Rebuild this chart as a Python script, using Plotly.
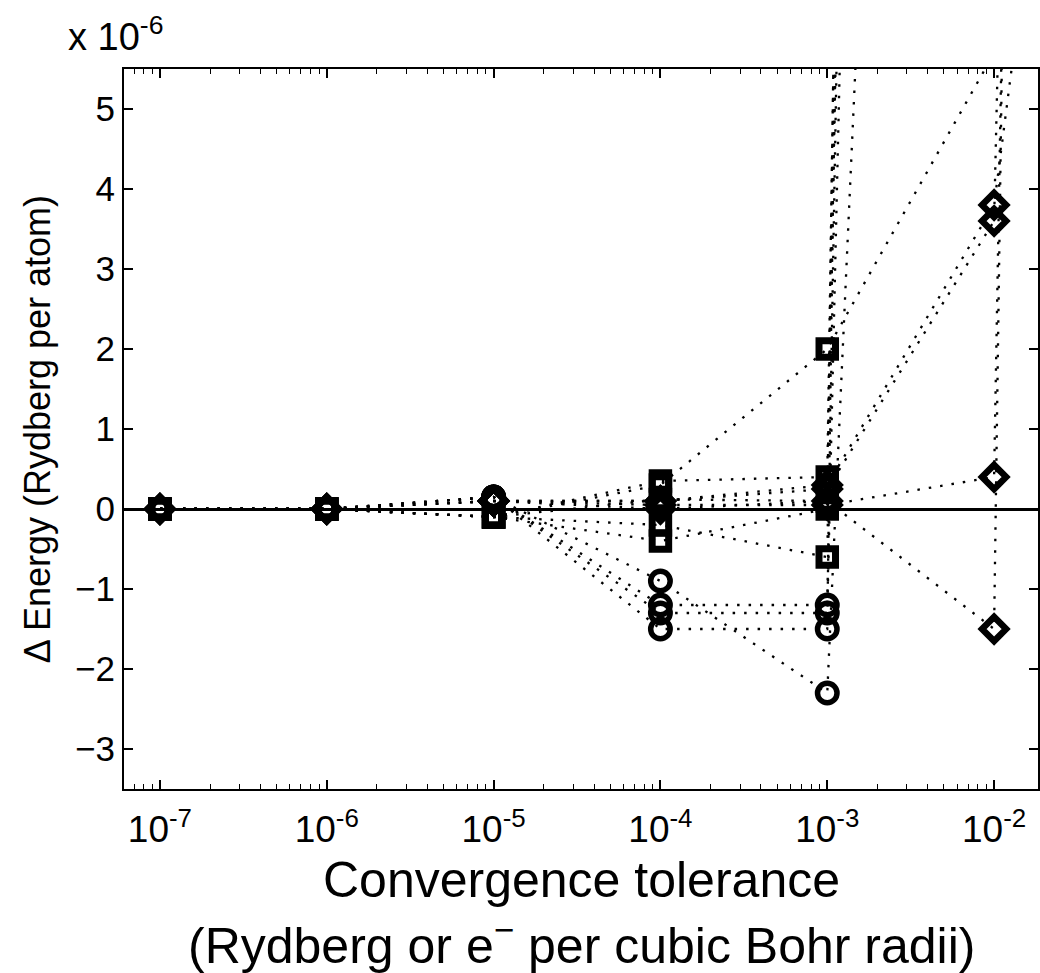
import plotly.graph_objects as go

# Convergence tolerances (the last one lies beyond the visible x-range)
tolerance = [1e-7, 1e-6, 1e-5, 1e-4, 1e-3, 1e-2, 1e-1]

# Energy change per run, in units of 1e-6 Rydberg per atom
circle_runs = [
    [0, 0, 0.15, -1.2, -1.2, 120, None],
    [0, 0, 0.15, -1.3, -1.3, 90, None],
    [0, 0, 0.15, -1.5, -1.5, 160, None],
    [0, 0, 0.15, -0.9, -2.3, 44, None],
]
square_runs = [
    [0, 0, -0.1, 0.3, 2.0, 5.7, None],
    [0, 0, -0.1, 0.35, 0.4, 140, None],
    [0, 0, -0.1, 0.12, 0.1, 110, None],
    [0, 0, -0.1, -0.2, -0.6, 130, None],
    [0, 0, -0.1, -0.4, 0.0, 150, None],
]
diamond_runs = [
    [0, 0, 0.1, 0.1, 0.3, 3.8, 20],
    [0, 0, 0.1, 0.1, 0.25, 3.6, 95],
    [0, 0, 0.1, 0.05, 0.05, 0.4, 120],
    [0, 0, 0.1, 0.0, 0.1, -1.5, 150],
]

major_ticks = [1e-7, 1e-6, 1e-5, 1e-4, 1e-3, 1e-2]
major_labels = ["10<sup>-7</sup>", "10<sup>-6</sup>", "10<sup>-5</sup>",
                "10<sup>-4</sup>", "10<sup>-3</sup>", "10<sup>-2</sup>"]
y_ticks = [-3, -2, -1, 0, 1, 2, 3, 4, 5]

FONT = "Liberation Sans, Arial, Helvetica, sans-serif"

fig = go.Figure()

marker_styles = [
    (circle_runs, "circle-open", 19.5, 5.5),
    (square_runs, "square-open", 16.5, 7),
    (diamond_runs, "diamond-open", 18.5, 6.5),
]
for runs, symbol, size, lw in marker_styles:
    for run in runs:
        fig.add_trace(go.Scatter(
            x=tolerance, y=run, mode="lines+markers",
            line=dict(color="black", width=2.3, dash="2.5px,9px"),
            marker=dict(symbol=symbol, size=size, color="black",
                        line=dict(color="black", width=lw)),
            connectgaps=False, showlegend=False, hoverinfo="skip",
        ))

minor_ticks = [k * 10.0 ** e for e in range(-8, -1) for k in range(2, 10)]

fig.update_xaxes(
    type="log", range=[-7.2153, -1.7368],
    tickvals=major_ticks, ticktext=major_labels,
    ticks="inside", ticklen=9, tickwidth=1.8, tickcolor="black",
    showline=True, linecolor="black", linewidth=2, mirror="ticks",
    showgrid=False, zeroline=False, ticklabelstandoff=7,
    tickfont=dict(family=FONT, size=37, color="black"),
    minor=dict(tickvals=minor_ticks, ticks="inside", ticklen=5,
               tickwidth=1.4, tickcolor="black", showgrid=False),
)
fig.update_yaxes(
    range=[-3.5, 5.5], tickvals=y_ticks,
    ticks="inside", ticklen=9, tickwidth=1.8, tickcolor="black",
    showline=True, linecolor="black", linewidth=2, mirror="ticks",
    showgrid=False, zeroline=True, zerolinecolor="black", zerolinewidth=2.8,
    tickfont=dict(family=FONT, size=35, color="black"),
)

fig.update_layout(
    width=1040, height=973,
    margin=dict(l=124, r=0, t=69, b=184),
    paper_bgcolor="white", plot_bgcolor="white",
    font=dict(family=FONT, color="black"),
    annotations=[
        dict(text="x 10<sup>-6</sup>", xref="paper", yref="paper",
             x=-0.064, y=1.0, xanchor="left", yanchor="bottom", yshift=9,
             showarrow=False, font=dict(size=38)),
        dict(text="\u0394 Energy (Rydberg per atom)", xref="paper", yref="paper",
             x=-0.095, y=0.5, xanchor="center", yanchor="middle",
             textangle=-90, showarrow=False, font=dict(size=36)),
        dict(text="Convergence tolerance", xref="paper", yref="paper",
             x=0.5, y=-0.1264, xanchor="center", yanchor="middle",
             showarrow=False, font=dict(size=50)),
        dict(text="(Rydberg or e<sup>\u2212</sup> per cubic Bohr radii)",
             xref="paper", yref="paper",
             x=0.5, y=-0.2125, xanchor="center", yanchor="middle",
             showarrow=False, font=dict(size=50)),
    ],
)

fig.write_html("out.html")
